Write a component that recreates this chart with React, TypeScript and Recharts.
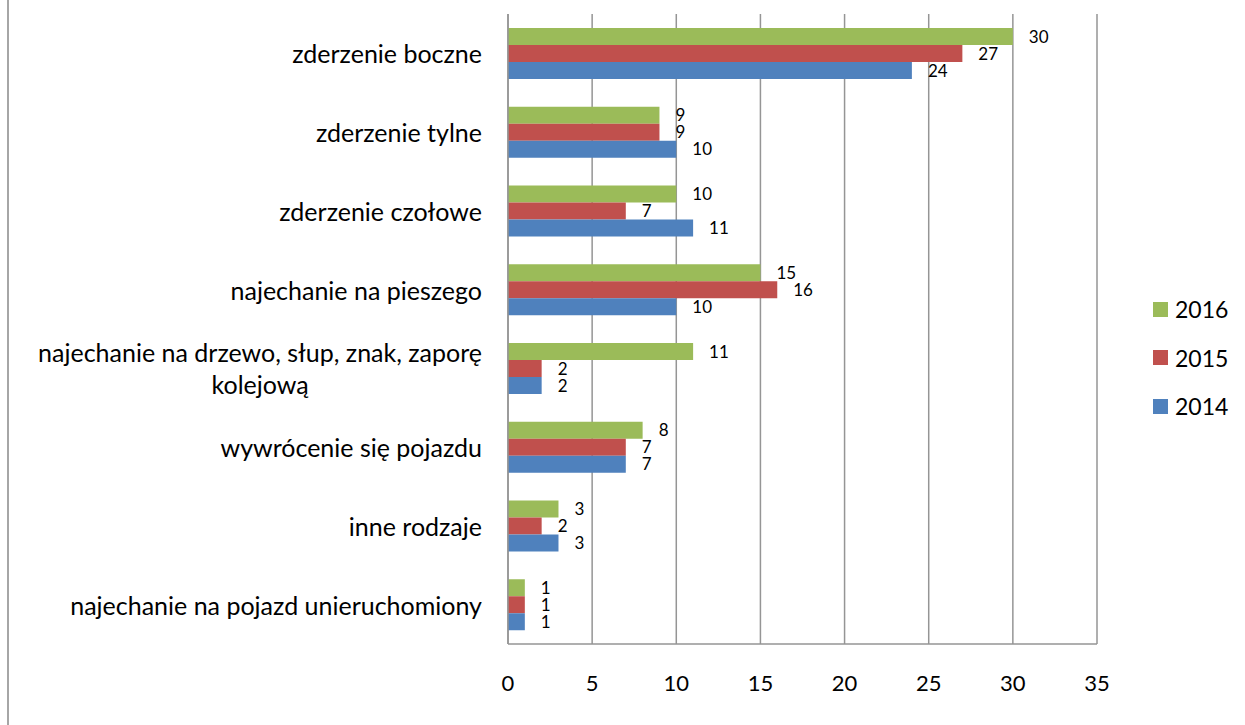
import React from 'react';
import { BarChart, Bar, XAxis, YAxis, CartesianGrid, Legend, LabelList } from 'recharts';

const categories = [
  'zderzenie boczne',
  'zderzenie tylne',
  'zderzenie czołowe',
  'najechanie na pieszego',
  'najechanie na drzewo, słup, znak, zaporę kolejową',
  'wywrócenie się pojazdu',
  'inne rodzaje',
  'najechanie na pojazd unieruchomiony',
];
const values2016 = [30, 9, 10, 15, 11, 8, 3, 1];
const values2015 = [27, 9, 7, 16, 2, 7, 2, 1];
const values2014 = [24, 10, 11, 10, 2, 7, 3, 1];
const xTicks = [0, 5, 10, 15, 20, 25, 30, 35];

const seriesInfo = [
  { key: 'y2016', name: '2016', color: '#9BBB59' },
  { key: 'y2015', name: '2015', color: '#C0504D' },
  { key: 'y2014', name: '2014', color: '#4F81BD' },
];

const data = categories.map((c, i) => ({
  cat: c,
  y2016: values2016[i],
  y2015: values2015[i],
  y2014: values2014[i],
}));

const FONT = 'Lato, "Open Sans", sans-serif';
const CAT_FONT_SIZE = 25;

function measure(text: string, size: number): number {
  try {
    const c = document.createElement('canvas').getContext('2d');
    if (c) {
      c.font = `${size}px Lato`;
      return c.measureText(text).width;
    }
  } catch (e) {}
  return text.length * size * 0.45;
}

const CategoryTick = (props: any) => {
  const { x, y, payload } = props;
  const text: string = payload.value;
  let lines = [text];
  if (text.length > 38) {
    const idx = text.lastIndexOf(' ');
    lines = [text.slice(0, idx), text.slice(idx + 1)];
  }
  const lh = 32;
  const startDy = -((lines.length - 1) * lh) / 2;
  if (lines.length === 1) {
    return (
      <text x={x} y={y} textAnchor="end" fill="#000" fontSize={CAT_FONT_SIZE} fontFamily={FONT} dominantBaseline="central">
        {text}
      </text>
    );
  }
  const maxW = Math.max(...lines.map((l) => measure(l, CAT_FONT_SIZE)));
  const cx = x - maxW / 2;
  return (
    <text x={cx} y={y} textAnchor="middle" fill="#000" fontSize={CAT_FONT_SIZE} fontFamily={FONT} dominantBaseline="central">
      {lines.map((l, i) => (
        <tspan key={i} x={cx} dy={i === 0 ? startDy : lh}>{l}</tspan>
      ))}
    </text>
  );
};

const LegendContent = () => (
  <div style={{ fontFamily: FONT, fontSize: 23 }}>
    {seriesInfo.map((s) => (
      <div key={s.key} style={{ display: 'flex', alignItems: 'center', height: 48.5 }}>
        <div style={{ width: 15, height: 15, background: s.color, marginRight: 7 }} />
        <span style={{ color: '#000' }}>{s.name}</span>
      </div>
    ))}
  </div>
);

export default function App() {
  return (
    <div style={{ position: 'absolute', left: 0, top: 0, width: 1245, height: 725, background: '#fff' }}>
      <div style={{ position: 'absolute', left: 7, top: 0, width: 2, height: 725, background: '#a6a6a6' }} />
      <BarChart
        width={1245}
        height={725}
        data={data}
        layout="vertical"
        margin={{ top: 14, right: 148, left: 0, bottom: 0 }}
        barGap={0}
        barSize={17}
      >
        <CartesianGrid horizontal={false} vertical={true} stroke="#959595" strokeWidth={1.5} />
        <XAxis
          type="number"
          domain={[0, 35]}
          ticks={xTicks}
          interval={0}
          height={81}
          axisLine={{ stroke: '#959595', strokeWidth: 1.5 }}
          tickLine={false}
          tickSize={0}
          tickMargin={31}
          tick={{ fill: '#000', fontSize: 22, fontFamily: FONT }}
        />
        <YAxis
          type="category"
          dataKey="cat"
          width={508}
          axisLine={{ stroke: '#959595', strokeWidth: 1.5 }}
          tickLine={false}
          tickSize={0}
          tickMargin={26}
          interval={0}
          tick={<CategoryTick />}
        />
        <Legend
          layout="vertical"
          verticalAlign="middle"
          align="center"
          wrapperStyle={{ left: 1153, top: 285, width: 90 }}
          content={<LegendContent />}
        />
        {seriesInfo.map((s) => (
          <Bar key={s.key} dataKey={s.key} name={s.name} fill={s.color} isAnimationActive={false}>
            <LabelList dataKey={s.key} position="right" offset={16} fill="#000" fontSize={17} fontFamily={FONT} />
          </Bar>
        ))}
      </BarChart>
    </div>
  );
}
